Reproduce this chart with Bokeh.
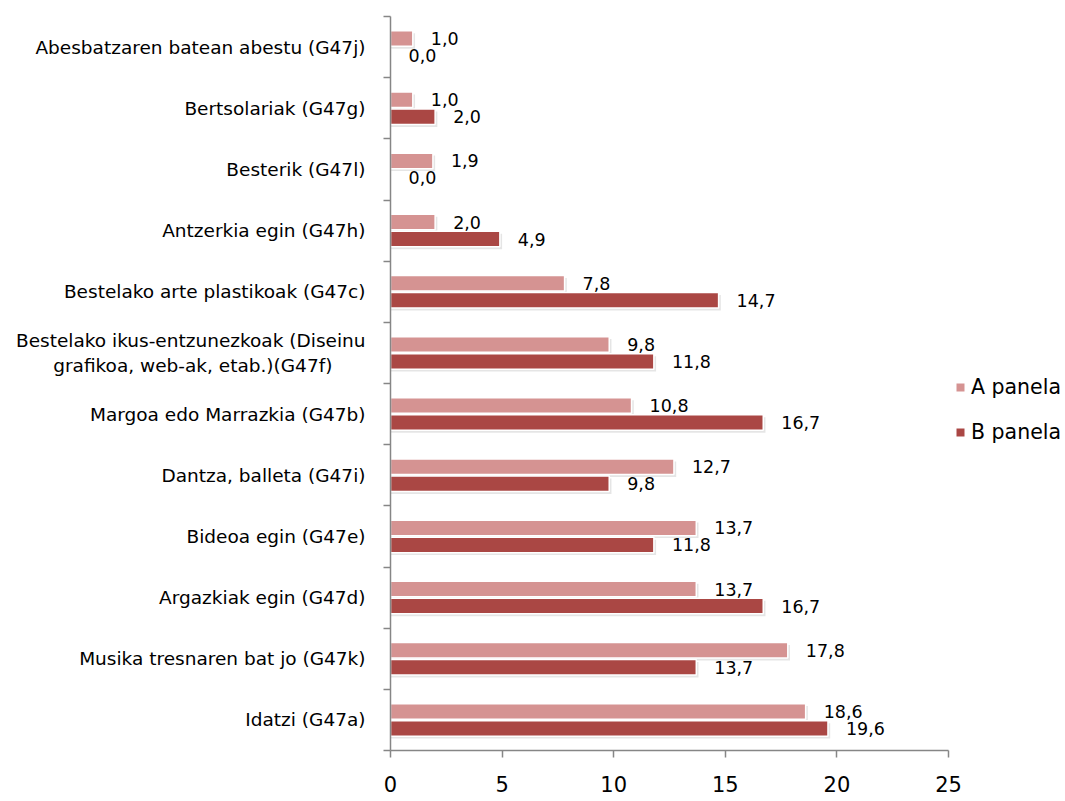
from bokeh.plotting import figure
from bokeh.models import Range1d, FixedTicker, Legend, LegendItem, ColumnDataSource
from bokeh.embed import file_html
from bokeh.resources import INLINE
from bokeh.core.properties import value

# Categories listed from bottom to top
categories = [
    "Idatzi (G47a)",
    "Musika tresnaren bat jo (G47k)",
    "Argazkiak egin (G47d)",
    "Bideoa egin (G47e)",
    "Dantza, balleta (G47i)",
    "Margoa edo Marrazkia (G47b)",
    "Bestelako ikus-entzunezkoak (Diseinu\ngrafikoa, web-ak, etab.)(G47f)\u00a0\u00a0\u00a0\u00a0\u00a0\u2009",
    "Bestelako arte plastikoak (G47c)",
    "Antzerkia egin (G47h)",
    "Besterik (G47l)",
    "Bertsolariak (G47g)",
    "Abesbatzaren batean abestu (G47j)",
]
a_panela = [18.6, 17.8, 13.7, 13.7, 12.7, 10.8, 9.8, 7.8, 2.0, 1.9, 1.0, 1.0]
b_panela = [19.6, 13.7, 16.7, 11.8, 9.8, 16.7, 11.8, 14.7, 4.9, 0.0, 2.0, 0.0]
x_ticks = [0, 5, 10, 15, 20, 25]
series_names = ["A panela", "B panela"]

col_a = "#D59392"
col_b = "#AA4744"
FONT = "DejaVu Sans"

n = len(categories)
pos = list(range(n))
off = 0.139
h = 0.253

ya = [p_ + off for p_ in pos]
yb = [p_ - off for p_ in pos]
lab_a = [f"{v:.1f}".replace(".", ",") for v in a_panela]
lab_b = [f"{v:.1f}".replace(".", ",") for v in b_panela]

src = ColumnDataSource(dict(ya=ya, yb=yb, a=a_panela, b=b_panela,
                            la=lab_a, lb=lab_b,
                            yas=[y - 0.04 for y in ya], ybs=[y - 0.04 for y in yb],
                            as_=[v + 0.1 if v > 0 else 0 for v in a_panela],
                            bs_=[v + 0.1 if v > 0 else 0 for v in b_panela]))

p = figure(output_backend="svg", toolbar_location=None,
           x_range=Range1d(0, 25), y_range=Range1d(-0.5, n - 0.5),
           frame_width=558, frame_height=734,
           min_border_left=390, min_border_top=16, min_border_bottom=50,
           min_border_right=2)
p.outline_line_color = None
p.xgrid.visible = False
p.ygrid.visible = False
p.background_fill_color = "white"
p.border_fill_color = "white"

# shadows
p.hbar(y="yas", right="as_", left=0, height=h, source=src,
       fill_color="black", fill_alpha=0.10, line_color=None)
p.hbar(y="ybs", right="bs_", left=0, height=h, source=src,
       fill_color="black", fill_alpha=0.10, line_color=None)

p.hbar(y="ya", right="a", left=0, height=h, source=src,
       fill_color=col_a, line_color="white", line_width=1.5)
p.hbar(y="yb", right="b", left=0, height=h, source=src,
       fill_color=col_b, line_color="white", line_width=1.5)

# plain legend swatches (zero-width, invisible in plot)
swatch = ColumnDataSource(dict(y=[0], r=[0]))
la_r = p.hbar(y="y", right="r", left=0, height=h, source=swatch,
              fill_color=col_a, line_color=None)
lb_r = p.hbar(y="y", right="r", left=0, height=h, source=swatch,
              fill_color=col_b, line_color=None)

p.text(x="a", y="ya", text="la", source=src, x_offset=18, y_offset=0,
       text_align="left", text_baseline="middle",
       text_font=value(FONT), text_font_size="17.5px", text_color="black")
p.text(x="b", y="yb", text="lb", source=src, x_offset=18, y_offset=0,
       text_align="left", text_baseline="middle",
       text_font=value(FONT), text_font_size="17.5px", text_color="black")

# x axis
xa = p.xaxis[0]
xa.ticker = FixedTicker(ticks=x_ticks)
xa.axis_line_color = "#868686"
xa.axis_line_width = 1.5
xa.major_tick_line_color = "#868686"
xa.major_tick_line_width = 1.5
xa.major_tick_out = 7
xa.major_tick_in = 0
xa.minor_tick_line_color = None
xa.major_label_standoff = 18
xa.major_label_text_font = FONT
xa.major_label_text_font_size = "21px"
xa.major_label_text_color = "black"

# y axis
ya_ax = p.yaxis[0]
ya_ax.ticker = FixedTicker(ticks=pos, minor_ticks=[i - 0.5 for i in range(n + 1)])
ya_ax.major_label_overrides = {i: c for i, c in enumerate(categories)}
ya_ax.axis_line_color = "#868686"
ya_ax.axis_line_width = 1.5
ya_ax.major_tick_line_color = None
ya_ax.major_tick_out = 0
ya_ax.major_tick_in = 0
ya_ax.minor_tick_line_color = "#868686"
ya_ax.minor_tick_line_width = 1.5
ya_ax.minor_tick_out = 7
ya_ax.minor_tick_in = 0
ya_ax.major_label_standoff = 18
ya_ax.major_label_text_font = FONT
ya_ax.major_label_text_font_size = "18.5px"
ya_ax.major_label_text_color = "black"

legend = Legend(items=[LegendItem(label=series_names[0], renderers=[la_r]),
                       LegendItem(label=series_names[1], renderers=[lb_r])],
                location=(7, 306), orientation="vertical",
                glyph_width=10, glyph_height=10, label_standoff=6,
                label_height=22, spacing=21, padding=0, margin=0,
                label_text_font=FONT, label_text_font_size="20.5px",
                label_text_color="black",
                border_line_color=None, background_fill_alpha=0)
p.add_layout(legend, "right")

open("out.html", "w").write(file_html(p, INLINE))
